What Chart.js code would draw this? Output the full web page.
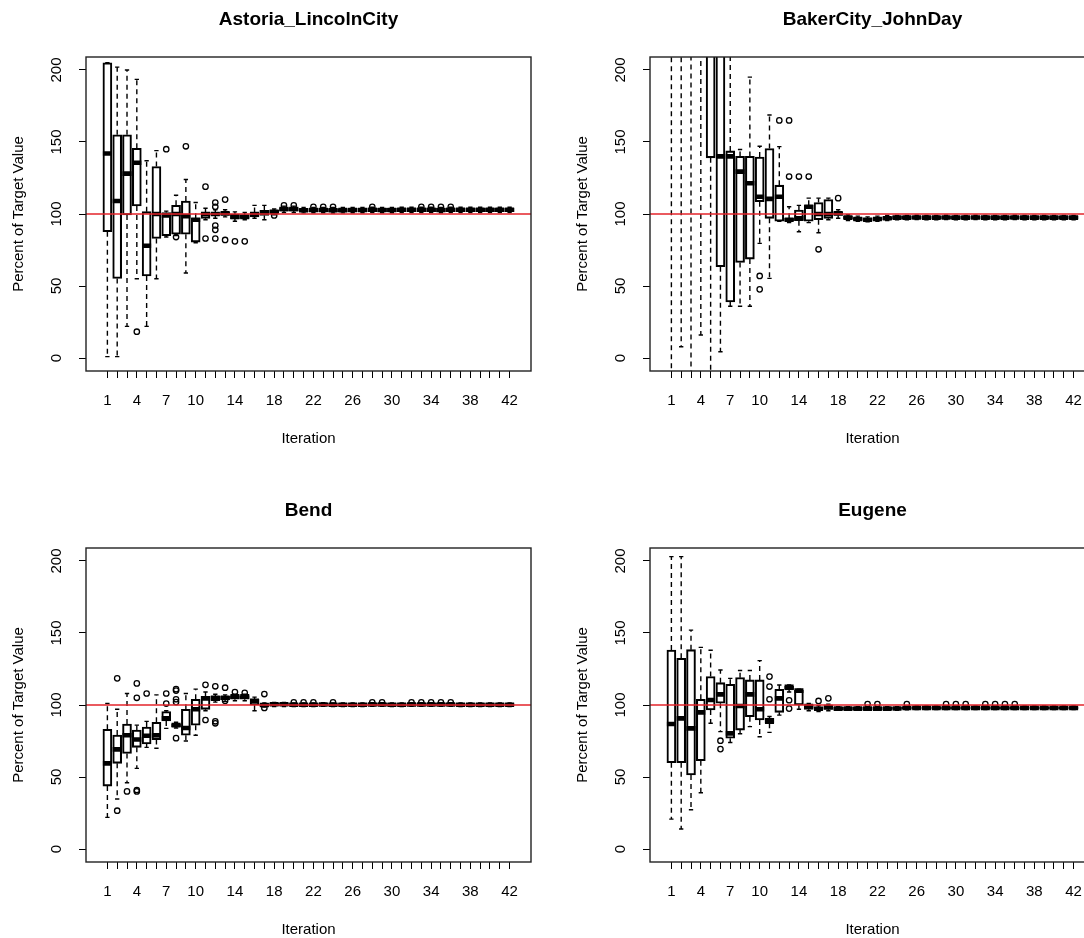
<!DOCTYPE html>
<html>
<head>
<meta charset="utf-8">
<script src="https://cdn.jsdelivr.net/npm/chart.js@4.4.1/dist/chart.umd.min.js"></script>
<style>
  html, body { margin: 0; padding: 0; background: #fff; overflow: hidden; }
  #page { position: relative; width: 1084px; height: 938px; overflow: hidden; background: #fff; }
  .panel { position: absolute; width: 542px; height: 469px; }
</style>
</head>
<body>
<div id="page">
  <div class="panel" style="left:0;top:0"><canvas id="astoria" width="542" height="469"></canvas></div>
  <div class="panel" style="left:564px;top:0"><canvas id="baker" width="542" height="469"></canvas></div>
  <div class="panel" style="left:0;top:491px"><canvas id="bend" width="542" height="469"></canvas></div>
  <div class="panel" style="left:564px;top:491px"><canvas id="eugene" width="542" height="469"></canvas></div>
</div>
<script>
// iterations 1..42 on the x axis
const iterations = [1, 2, 3, 4, 5, 6, 7, 8, 9, 10, 11, 12, 13, 14, 15, 16, 17, 18, 19, 20, 21,
  22, 23, 24, 25, 26, 27, 28, 29, 30, 31, 32, 33, 34, 35, 36, 37, 38, 39, 40, 41, 42];
const tickLabels = [1, 4, 7, 10, 14, 18, 22, 26, 30, 34, 38, 42];
const yTicks = [0, 50, 100, 150, 200];
const targetValue = 100;

// Astoria_LincolnCity
const astoriaQ1 = [87.7, 55.3, 99.3, 105.6, 57, 83, 85, 86, 86, 80.5, 97, 99, 99, 96.5, 97, 98, 99, 100.5, 102, 102,
  101.5, 101.6, 101.6, 101.4, 101.5, 101.6, 101.6, 101.7, 101.6, 101.6, 101.7, 101.7, 101.7, 101.7, 101.6, 101.7, 101.7, 101.7, 101.7, 101.7, 101.7, 101.7];
const astoriaMed = [142, 109, 128, 135.6, 78, 100, 99, 100, 98.5, 96, 100, 100, 100.5, 98, 98, 100, 101, 101.5, 103.5, 103.5,
  102.6, 102.8, 102.8, 102.6, 102.7, 102.8, 102.8, 102.9, 102.8, 102.8, 102.9, 102.9, 102.9, 102.9, 102.8, 102.9, 102.9, 102.9, 102.9, 102.9, 102.9, 102.9];
const astoriaQ3 = [205, 155, 155, 145.6, 101.6, 133, 101, 106, 109, 97, 101, 101, 101.5, 100, 99.5, 101, 102.5, 102.5, 104.5, 104.5,
  103.8, 103.9, 103.9, 103.8, 103.8, 103.9, 103.9, 104, 103.9, 103.9, 104, 104, 104, 104, 103.9, 104, 104, 104, 104, 104, 104, 104];
const astoriaLo = [1, 1, 22, 55, 22, 55, 84, 85, 59, 80, 96, 97, 98, 95, 96, 97, 96, 99.5, 101, 101,
  100.8, 100.9, 100.9, 100.7, 100.8, 100.9, 100.9, 101, 100.9, 100.9, 101, 101, 101, 101, 100.9, 101, 101, 101, 101, 101, 101, 101];
const astoriaHi = [205, 202, 200, 193.5, 137, 144, 102, 113, 124, 108, 104, 103, 103, 101.5, 101, 106, 106, 103.5, 105.5, 105.5,
  104.5, 104.6, 104.6, 104.5, 104.5, 104.6, 104.6, 104.7, 104.6, 104.6, 104.7, 104.7, 104.7, 104.7, 104.6, 104.7, 104.7, 104.7, 104.7, 104.7, 104.7, 104.7];
const astoriaOut = [[4, 18.3], [7, 145], [8, 84], [9, 147], [11, 119], [11, 83], [12, 108], [12, 105], [12, 92], [12, 89],
  [12, 83], [13, 110], [13, 82], [14, 81], [15, 81], [18, 99], [19, 106], [20, 106], [22, 105], [23, 105], [24, 105],
  [28, 105], [33, 105], [34, 105], [35, 105], [36, 105]];

// BakerCity_JohnDay
const bakerQ1 = [240, 240, 235, 225, 139, 63.4, 39, 66.4, 68.7, 108.5, 97, 95, 95, 95.4, 95, 96, 97, 99, 96.5, 95.5,
  95, 95.5, 96, 96.5, 96.5, 96.6, 96.5, 96.5, 96.6, 96.5, 96.5, 96.6, 96.5, 96.5, 96.5, 96.6, 96.5, 96.5, 96.5, 96.5, 96.5, 96.5];
const bakerMed = [280, 270, 265, 255, 230, 140, 140, 129.4, 121.3, 112, 110.5, 112, 96, 97, 105, 100, 100, 100.5, 97.5, 96.5,
  96, 96.5, 97, 97.5, 97.5, 97.6, 97.5, 97.5, 97.6, 97.5, 97.5, 97.6, 97.5, 97.5, 97.5, 97.6, 97.5, 97.5, 97.5, 97.5, 97.5, 97.5];
const bakerQ3 = [320, 300, 300, 290, 290, 225, 143.8, 140, 140, 139.6, 145.4, 120, 97, 102.8, 106, 108, 110, 101.5, 98.5, 97.5,
  97, 97.5, 98, 98.5, 98.5, 98.6, 98.5, 98.5, 98.6, 98.5, 98.5, 98.6, 98.5, 98.5, 98.5, 98.6, 98.5, 98.5, 98.5, 98.5, 98.5, 98.5];
const bakerLo = [-15, 7.8, -15, 16, -15, 4.4, 36, 36, 36, 79.6, 55.3, 95, 94, 87.7, 94, 87, 96, 97, 95.5, 95,
  94.5, 95, 95.5, 96, 96, 96.1, 96, 96, 96.1, 96, 96, 96.1, 96, 96, 96, 96.1, 96, 96, 96, 96, 96, 96];
const bakerHi = [400, 380, 380, 360, 380, 330, 220, 144.8, 195, 147, 168.7, 146.8, 105, 106, 111, 111, 111, 103, 99.5, 98.5,
  98, 98.5, 99, 99, 99, 99.1, 99, 99, 99.1, 99, 99, 99.1, 99, 99, 99, 99.1, 99, 99, 99, 99, 99, 99];
const bakerOut = [[10, 57], [10, 47.7], [12, 165], [13, 165], [13, 126], [14, 126], [15, 126], [16, 75.5], [18, 111]];

// Bend
const bendQ1 = [43.7, 59.5, 66.4, 70.6, 73, 76, 88.9, 85, 79, 86, 97, 103, 103.5, 104, 104, 100, 99, 99.5, 99.5, 99.4,
  99.4, 99.4, 99.5, 99.4, 99.4, 99.4, 99.4, 99.5, 99.5, 99.4, 99.4, 99.5, 99.5, 99.5, 99.5, 99.5, 99.4, 99.4, 99.4, 99.4, 99.4, 99.4];
const bendMed = [59.5, 69.2, 79, 76, 78.7, 79, 90.7, 86, 84, 97, 104.5, 105, 105, 106, 106, 103, 100, 100.5, 100.5, 100.2,
  100.2, 100.2, 100.3, 100.2, 100.2, 100.2, 100.2, 100.3, 100.3, 100.2, 100.2, 100.3, 100.3, 100.3, 100.3, 100.3, 100.2, 100.2, 100.2, 100.2, 100.2, 100.2];
const bendQ3 = [83.1, 79.2, 86.8, 82.6, 84.7, 88, 95.4, 87, 97, 104, 106, 106, 106, 106.5, 106.5, 104, 101, 101.2, 101.2, 101,
  101, 101, 101.1, 101, 101, 101, 101, 101.1, 101.1, 101, 101, 101.1, 101.1, 101.1, 101.1, 101.1, 101, 101, 101, 101, 101, 101];
const bendLo = [22, 34.7, 46, 56, 70.6, 70, 83.8, 84, 75, 79, 96, 102, 102.5, 103, 103, 96, 98.5, 99, 99, 99,
  99, 99, 99.1, 99, 99, 99, 99, 99.1, 99.1, 99, 99, 99.1, 99.1, 99.1, 99.1, 99.1, 99, 99, 99, 99, 99, 99];
const bendHi = [101, 97, 108, 86, 88.6, 107, 96, 88, 108, 111, 109, 107.5, 107, 107.5, 107.5, 105.5, 101.5, 101.8, 101.8, 101.5,
  101.5, 101.5, 101.6, 101.5, 101.5, 101.5, 101.5, 101.6, 101.6, 101.5, 101.5, 101.6, 101.6, 101.6, 101.6, 101.6, 101.5, 101.5, 101.5, 101.5, 101.5, 101.5];
const bendOut = [[2, 118.5], [2, 26.6], [3, 40], [4, 115], [4, 105], [4, 41], [4, 40], [5, 108], [7, 108], [7, 101],
  [8, 111], [8, 110], [8, 104], [8, 102], [8, 77], [11, 114], [11, 89.6], [12, 113], [12, 87.3], [12, 88.7], [13, 112],
  [13, 103], [14, 109], [15, 108.5], [17, 107.6], [17, 98], [20, 101.8], [21, 101.8], [22, 101.8], [24, 101.8],
  [28, 101.8], [29, 101.8], [32, 101.8], [33, 101.8], [34, 101.8], [35, 101.8], [36, 101.8]];

// Eugene
const eugeneQ1 = [59.9, 59.9, 51.4, 61.3, 96.5, 101.2, 76.9, 82.6, 91.9, 89.6, 87.3, 94.9, 110.5, 100, 97, 96.5, 97, 96.8, 96.8, 96.8,
  96.8, 96.8, 96.8, 96.9, 97.2, 97.3, 97.3, 97.3, 97.3, 97.3, 97.3, 97.3, 97.3, 97.3, 97.3, 97.3, 97.3, 97.3, 97.3, 97.3, 97.3, 97.3];
const eugeneMed = [86.8, 90.7, 83.8, 94.9, 103.5, 107.4, 80.3, 99.3, 107.4, 97, 88.4, 104.6, 112.7, 110, 99.3, 97.4, 98.5, 97.5, 97.5, 97.5,
  97.5, 97.5, 97.5, 97.6, 97.9, 98, 98, 98, 98, 98, 98, 98, 98, 98, 98, 98, 98, 98, 98, 98, 98, 98];
const eugeneQ3 = [138.2, 132.4, 138.4, 104, 119.7, 115.5, 114.4, 119, 117.4, 117.4, 90.7, 110.9, 113, 110.3, 100, 98.5, 99.5, 98.3, 98.3, 98.3,
  98.3, 98.3, 98.3, 98.4, 98.7, 98.8, 98.8, 98.8, 98.8, 98.8, 98.8, 98.8, 98.8, 98.8, 98.8, 98.8, 98.8, 98.8, 98.8, 98.8, 98.8, 98.8];
const eugeneLo = [20.8, 13.9, 27.3, 39.1, 87.3, 81.5, 74, 80, 85, 78, 81, 93, 109, 97, 96, 95.5, 96, 96.3, 96.3, 96.3,
  96.3, 96.3, 96.3, 96.4, 96.7, 96.8, 96.8, 96.8, 96.8, 96.8, 96.8, 96.8, 96.8, 96.8, 96.8, 96.8, 96.8, 96.8, 96.8, 96.8, 96.8, 96.8];
const eugeneHi = [203, 203, 152, 140, 138, 124.3, 118.5, 124, 124, 130.8, 92, 113.9, 114, 111, 101, 99.5, 100.5, 98.8, 98.8, 98.8,
  98.8, 98.8, 98.8, 98.9, 99.2, 99.3, 99.3, 99.3, 99.3, 99.3, 99.3, 99.3, 99.3, 99.3, 99.3, 99.3, 99.3, 99.3, 99.3, 99.3, 99.3, 99.3];
const eugeneOut = [[6, 75.2], [6, 69.4], [11, 119.7], [11, 112.8], [11, 104], [13, 103.3], [13, 97.5], [16, 102.8],
  [17, 104.6], [21, 100.7], [22, 100.7], [25, 100.7], [29, 100.7], [30, 100.7], [31, 100.7], [33, 100.7], [34, 100.7],
  [35, 100.7], [36, 100.7]];

Chart.defaults.font.family = '"Liberation Sans", Arial, sans-serif';
Chart.defaults.color = '#000';

// rotated y tick labels, like R's default las = 0
const rotatedYTicks = {
  id: 'rotatedYTicks',
  afterDraw(chart) {
    const y = chart.scales.y;
    const ctx = chart.ctx;
    ctx.save();
    ctx.font = '15px "Liberation Sans", Arial, sans-serif';
    ctx.fillStyle = '#000';
    ctx.textAlign = 'center';
    ctx.textBaseline = 'middle';
    yTicks.forEach(v => {
      ctx.save();
      ctx.translate(chart.chartArea.left - 29, y.getPixelForValue(v));
      ctx.rotate(-Math.PI / 2);
      ctx.fillText(String(v), 0, 0);
      ctx.restore();
    });
    ctx.restore();
  }
};

// the box() around the plot region
const plotFrame = {
  id: 'plotFrame',
  afterDatasetsDraw(chart) {
    const { left, top, right, bottom } = chart.chartArea;
    const ctx = chart.ctx;
    ctx.save();
    ctx.strokeStyle = '#222';
    ctx.lineWidth = 1.4;
    ctx.strokeRect(left, top, right - left, bottom - top);
    ctx.restore();
  }
};

function makePanel(id, title, q1, med, q3, lo, hi, out) {
  const boxes = iterations.map((it, i) => ({ x: it, y: [q1[i], q3[i]] }));
  const medians = [];
  const whiskers = [];
  const staples = [];
  iterations.forEach((it, i) => {
    medians.push({ x: it - 0.46, y: med[i] }, { x: it + 0.46, y: med[i] }, { x: it + 0.46, y: null });
    whiskers.push({ x: it, y: q3[i] }, { x: it, y: hi[i] }, { x: it, y: null },
      { x: it, y: q1[i] }, { x: it, y: lo[i] }, { x: it, y: null });
    staples.push({ x: it - 0.22, y: hi[i] }, { x: it + 0.22, y: hi[i] }, { x: it + 0.22, y: null },
      { x: it - 0.22, y: lo[i] }, { x: it + 0.22, y: lo[i] }, { x: it + 0.22, y: null });
  });
  const outliers = out.map(([it, v]) => ({ x: it, y: v }));

  new Chart(document.getElementById(id), {
    type: 'line',
    data: {
      datasets: [
        {
          type: 'line', label: 'target', order: 0,
          data: [{ x: -1.18, y: targetValue }, { x: 44.18, y: targetValue }],
          borderColor: '#e3232a', borderWidth: 1.6, pointRadius: 0
        },
        {
          type: 'line', label: 'median', order: 1, data: medians, spanGaps: false,
          borderColor: '#000', borderWidth: 4.6, borderCapStyle: 'butt', pointRadius: 0
        },
        {
          type: 'bar', label: 'box', order: 2, data: boxes, grouped: false,
          barThickness: 9, borderWidth: 1.4, borderColor: '#000',
          backgroundColor: 'rgba(255,255,255,0)', borderSkipped: false
        },
        {
          type: 'line', label: 'whisker', order: 3, data: whiskers, spanGaps: false,
          borderColor: '#000', borderWidth: 1.4, borderDash: [5, 4], pointRadius: 0
        },
        {
          type: 'line', label: 'staple', order: 3, data: staples, spanGaps: false,
          borderColor: '#000', borderWidth: 1.4, pointRadius: 0
        },
        {
          type: 'scatter', label: 'outlier', order: 4, data: outliers,
          pointStyle: 'circle', pointRadius: 2.7, pointBorderWidth: 1.3,
          pointBorderColor: '#000', pointBackgroundColor: 'rgba(255,255,255,0)'
        }
      ]
    },
    options: {
      responsive: false,
      animation: false,
      events: [],
      layout: { padding: { left: 0, right: 11, top: 0, bottom: 0 } },
      plugins: {
        legend: { display: false },
        tooltip: { enabled: false },
        title: {
          display: true, text: title, fullSize: false, color: '#000',
          font: { size: 19, weight: 'bold' },
          padding: { top: 8.6, bottom: 25.6 }
        }
      },
      scales: {
        x: {
          type: 'linear', min: -1.18, max: 44.18, offset: false,
          afterBuildTicks: s => { s.ticks = iterations.map(v => ({ value: v })); },
          afterFit: s => { s.height = 98; },
          grid: { display: true, offset: false, drawOnChartArea: false, drawTicks: true, tickLength: 7, color: '#000', lineWidth: 1 },
          border: { display: false },
          ticks: {
            autoSkip: false, maxRotation: 0, minRotation: 0, padding: 14, color: '#000',
            font: { size: 15 },
            callback: v => (tickLabels.includes(v) ? String(v) : '')
          },
          title: { display: true, text: 'Iteration', color: '#000', font: { size: 15 }, padding: { top: 0, bottom: 21 } }
        },
        y: {
          type: 'linear', min: -9, max: 209,
          afterBuildTicks: s => { s.ticks = yTicks.map(v => ({ value: v })); },
          afterFit: s => { s.width = 86; },
          grid: { display: true, drawOnChartArea: false, drawTicks: true, tickLength: 7, color: '#000', lineWidth: 1 },
          border: { display: false },
          ticks: { display: false },
          title: { display: true, text: 'Percent of Target Value', color: '#000', font: { size: 15 }, padding: { top: 10, bottom: 0 } }
        }
      }
    },
    plugins: [rotatedYTicks, plotFrame]
  });
}

makePanel('astoria', 'Astoria_LincolnCity', astoriaQ1, astoriaMed, astoriaQ3, astoriaLo, astoriaHi, astoriaOut);
makePanel('baker', 'BakerCity_JohnDay', bakerQ1, bakerMed, bakerQ3, bakerLo, bakerHi, bakerOut);
makePanel('bend', 'Bend', bendQ1, bendMed, bendQ3, bendLo, bendHi, bendOut);
makePanel('eugene', 'Eugene', eugeneQ1, eugeneMed, eugeneQ3, eugeneLo, eugeneHi, eugeneOut);
</script>
</body>
</html>
